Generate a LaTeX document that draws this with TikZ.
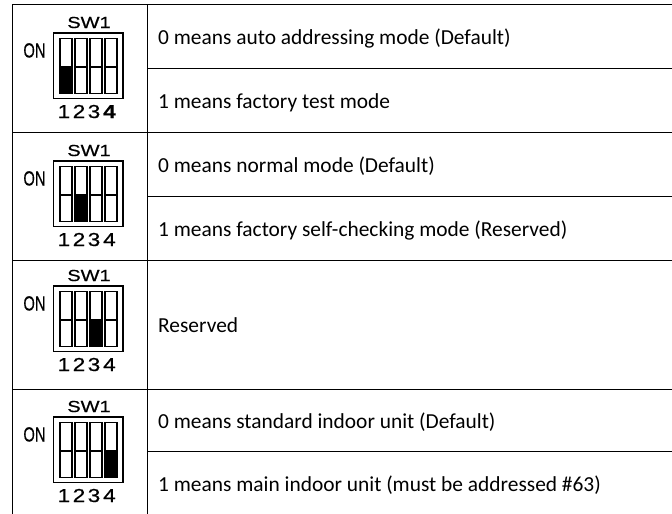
\documentclass[tikz,border=0pt]{standalone}
\usepackage{fontspec}
\setmainfont{Carlito}
\newfontfamily\swfont[FakeBold=0.6]{Liberation Sans}
\tikzset{
  tbl/.style={line width=1pt},
  swbox/.style={line width=1.8pt},
  swslot/.style={line width=1.4pt},
  desc/.style={anchor=base west, inner sep=0pt, font=\fontsize{21.4}{23}\selectfont},
  swlab/.style={anchor=base, inner sep=0pt, xscale=1.25, font=\swfont\fontsize{16}{16}\selectfont},
  onlab/.style={anchor=base, inner sep=0pt, xscale=0.72, font=\swfont\fontsize{20.5}{20.5}\selectfont},
  diglab/.style={anchor=base, inner sep=0pt, xscale=1.2, font=\swfont\fontsize{18.8}{18.8}\selectfont},
}
\newcommand\dipswitch[3]{%
  \begin{scope}[shift={(0,#1)}]
    \node[swlab] (sw#1) at (89,-39) {SW1};
    \node[onlab] (on#1) at (34.5,-9.5) {ON};
    \fill (60+15*#2-15,0) rectangle (72+15*#2-15,26.5);
    \foreach \i in {0,1,2,3} {
      \draw[swslot] (60+15*\i,-28.5) rectangle (72+15*\i,26.5);
      \draw[swslot] (60+15*\i,0) -- (72+15*\i,0);
    }
    \draw[swbox] (53.5,-34) rectangle (123,31.5);
    \node[diglab] (d1#1) at (64,51) {1};
    \node[diglab] (d2#1) at (79,51) {2};
    \node[diglab] (d3#1) at (94,51) {3};
    \node[diglab] (d4#1) at (109.5,51) {#3};
  \end{scope}%
}
\begin{document}
\begin{tikzpicture}[x=1pt,y=-1pt]
\useasboundingbox (0,0) rectangle (672,514);
% table
\foreach \y in {4,132,260,389} \draw[tbl] (12,\y) -- (672,\y);
\foreach \y in {68,196,451} \draw[tbl] (147,\y) -- (672,\y);
\draw[tbl] (12,4) -- (12,514);
\draw[tbl] (147,4) -- (147,514);
% switches
\dipswitch{67}{1}{\textbf{4}}
\dipswitch{195}{2}{4}
\dipswitch{320}{3}{4}
\dipswitch{451}{4}{4}
% texts
\node[desc] (t1) at (158,44) {0 means auto addressing mode (Default)};
\node[desc] (t2) at (158,108) {1 means factory test mode};
\node[desc] (t3) at (158,172) {0 means normal mode (Default)};
\node[desc] (t4) at (158,236) {1 means factory self-checking mode (Reserved)};
\node[desc] (t5) at (158,332) {Reserved};
\node[desc] (t6) at (158,428) {0 means standard indoor unit (Default)};
\node[desc] (t7) at (158,491) {1 means main indoor unit (must be addressed \#63)};
\end{tikzpicture}
\end{document}
